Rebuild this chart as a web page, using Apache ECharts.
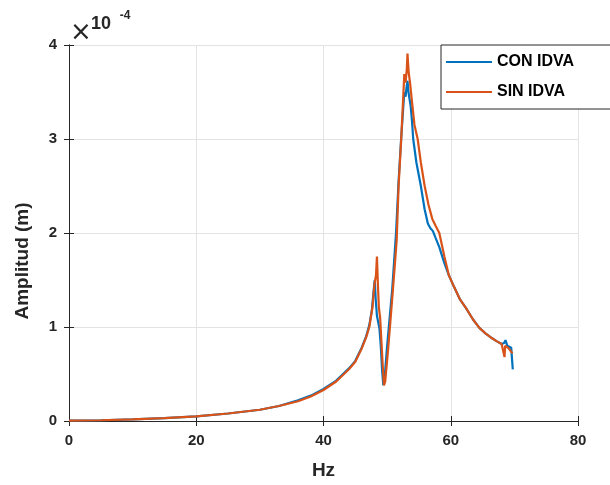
<!DOCTYPE html>
<html><head><meta charset="utf-8">
<script src="https://cdn.jsdelivr.net/npm/echarts@6/dist/echarts.min.js"></script>
<style>html,body{margin:0;padding:0;background:#fff}#c{width:610px;height:485px}</style>
</head><body><div id="c"></div>
<script>
// Frequency (Hz) and amplitude (x1e-4 m)
const conHz  = [0,5,10,15,20,25,30,33,36,38,40,42,44,45,46,46.7,47.2,47.6,47.9,48.05,48.2,48.4,48.6,48.8,49.0,49.2,49.4,49.6,50.0,50.4,50.8,51.1,51.4,51.8,52.2,52.5,52.7,52.9,53.05,53.2,53.35,53.5,53.7,53.9,54.1,54.6,55.3,55.9,56.4,56.8,57.2,57.6,58.2,59,59.7,60.5,61.4,62.4,63.5,64.5,65.5,66.5,67.2,68.0,68.4,68.6,68.9,69.2,69.5,69.7,69.75];
const conAmp = [0.003,0.008,0.018,0.03,0.05,0.08,0.12,0.16,0.22,0.27,0.34,0.43,0.56,0.64,0.78,0.9,1.02,1.18,1.4,1.5,1.3,1.12,1.05,0.98,0.8,0.55,0.38,0.45,0.8,1.1,1.4,1.7,2.0,2.55,3.0,3.3,3.5,3.45,3.55,3.62,3.5,3.48,3.35,3.2,3.0,2.75,2.5,2.25,2.1,2.05,2.02,1.95,1.85,1.68,1.55,1.43,1.3,1.2,1.08,0.99,0.93,0.88,0.85,0.82,0.83,0.86,0.8,0.82,0.78,0.76,0.55];
const sinHz  = [0,5,10,15,20,25,30,33,36,38,40,42,44,45,46,46.7,47.2,47.7,48.0,48.25,48.4,48.55,48.7,48.9,49.1,49.3,49.5,49.7,50.1,50.5,50.9,51.2,51.5,51.8,52.2,52.5,52.7,52.9,53.1,53.2,53.3,53.4,53.6,53.9,54.3,54.8,55.3,55.9,56.5,57.1,57.6,58.2,59,59.7,60.5,61.4,62.4,63.5,64.5,65.5,66.5,67.2,68.0,68.3,68.45,68.55,68.7,69.0,69.3,69.7];
const sinAmp = [0.003,0.008,0.018,0.03,0.05,0.08,0.12,0.16,0.21,0.26,0.33,0.42,0.55,0.63,0.77,0.89,1.0,1.21,1.45,1.55,1.75,1.45,1.21,1.1,0.85,0.6,0.38,0.42,0.72,1.05,1.39,1.65,1.92,2.5,2.98,3.4,3.69,3.6,3.75,3.91,3.8,3.7,3.6,3.4,3.15,3.0,2.75,2.5,2.3,2.15,2.08,2.0,1.75,1.55,1.43,1.3,1.2,1.08,0.99,0.93,0.88,0.85,0.82,0.8,0.68,0.8,0.79,0.78,0.76,0.72];
const xTicks = [0,20,40,60,80];
const yTicks = [0,1,2,3,4];

const pair = (xs, ys) => xs.map((x, i) => [x, ys[i]]);
const axisCol = '#262626';
const FF = 'Liberation Sans, Arial, sans-serif';
const lblStyle = {color: axisCol, fontWeight: 'bold', fontSize: 15, fontFamily: FF};
const chart = echarts.init(document.getElementById('c'));
chart.setOption({
  animation: false,
  grid: {left: 69, right: 32, top: 45, bottom: 64},
  xAxis: [{
    type: 'value', min: xTicks[0], max: xTicks[xTicks.length-1], interval: 20,
    name: 'Hz', nameLocation: 'middle', nameGap: 40,
    nameTextStyle: {color: axisCol, fontWeight: 'bold', fontSize: 19, fontFamily: FF},
    axisLine: {show: true, lineStyle: {color: axisCol, width: 1}},
    axisTick: {show: true, inside: true, length: 5, lineStyle: {color: axisCol}},
    axisLabel: Object.assign({margin: 12}, lblStyle),
    splitLine: {show: true, lineStyle: {color: '#e3e3e3', width: 1}}
  }, {
    type: 'value', position: 'top', min: 0, max: 80, interval: 20,
    axisLine: {show: true, lineStyle: {color: axisCol, width: 1}},
    axisTick: {show: true, inside: true, length: 5, lineStyle: {color: axisCol}},
    axisLabel: {show: false}, splitLine: {show: false}
  }],
  yAxis: [{
    type: 'value', min: yTicks[0], max: yTicks[yTicks.length-1], interval: 1,
    axisLine: {show: true, lineStyle: {color: axisCol, width: 1}},
    axisTick: {show: true, inside: true, length: 5, lineStyle: {color: axisCol}},
    axisLabel: Object.assign({margin: 12}, lblStyle),
    splitLine: {show: true, lineStyle: {color: '#e3e3e3', width: 1}}
  }, {
    type: 'value', position: 'right', min: 0, max: 4, interval: 1,
    axisLine: {show: true, lineStyle: {color: axisCol, width: 1}},
    axisTick: {show: true, inside: true, length: 5, lineStyle: {color: axisCol}},
    axisLabel: {show: false}, splitLine: {show: false}
  }],
  legend: {
    left: 441, top: 45, orient: 'vertical',
    backgroundColor: '#fff', borderColor: '#262626', borderWidth: 1,
    padding: [9, 60, 9, 5], itemGap: 14,
    itemWidth: 46, itemHeight: 2, icon: 'rect',
    textStyle: {color: '#000', fontWeight: 'bold', fontSize: 16, fontFamily: FF},
    data: ['CON IDVA', 'SIN IDVA']
  },
  graphic: [
    {type: 'text', x: 23, y: 261, rotation: Math.PI / 2,
     style: {text: 'Amplitud (m)', fill: axisCol, font: 'bold 19px ' + FF, textAlign: 'center', textVerticalAlign: 'middle'}},
    {type: 'text', x: 81, y: 33, style: {text: '×', fill: axisCol, font: '26px DejaVu Sans, sans-serif', textAlign: 'center', textVerticalAlign: 'middle'}},
    {type: 'text', x: 101, y: 24, style: {text: '10', fill: axisCol, font: 'bold 18px ' + FF, textAlign: 'center', textVerticalAlign: 'middle'}},
    {type: 'text', x: 125, y: 16, style: {text: '-4', fill: axisCol, font: 'bold 12px ' + FF, textAlign: 'center', textVerticalAlign: 'middle'}}
  ],
  series: [
    {name: 'CON IDVA', type: 'line', data: pair(conHz, conAmp), showSymbol: false, symbol: 'none',
     lineStyle: {color: '#0072BD', width: 2.2}, itemStyle: {color: '#0072BD'}, z: 2},
    {name: 'SIN IDVA', type: 'line', data: pair(sinHz, sinAmp), showSymbol: false, symbol: 'none',
     lineStyle: {color: '#D95319', width: 2.2}, itemStyle: {color: '#D95319'}, z: 3}
  ]
});
</script></body></html>
